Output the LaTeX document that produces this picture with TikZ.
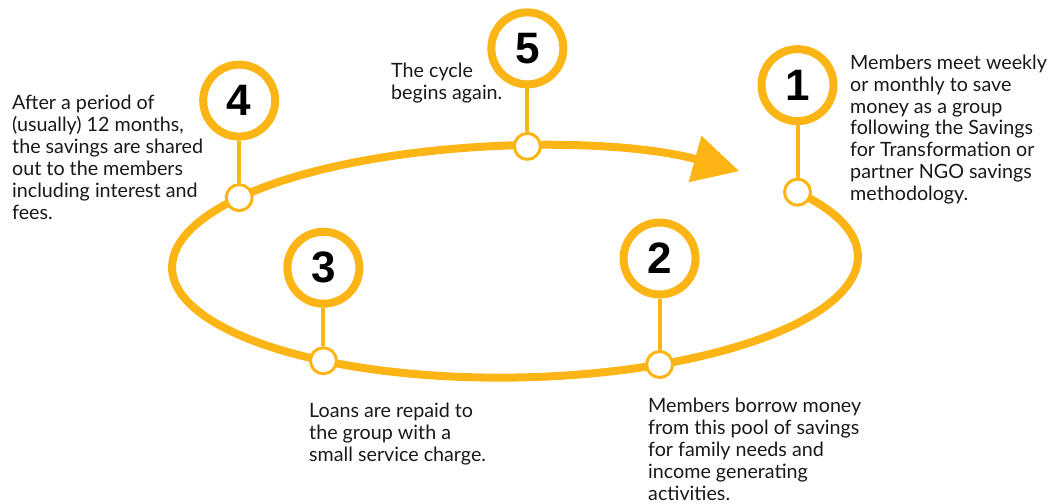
\documentclass[tikz,border=0pt]{standalone}
\usepackage{fontspec}
\setmainfont{Lato}
\newfontfamily\numfont{Liberation Sans}
\usetikzlibrary{arrows.meta}
\definecolor{cycleorange}{RGB}{252,181,21}

\begin{document}
\begin{tikzpicture}[x=1pt, y=1pt,
    ring/.style={cycleorange, line width=8pt},
    station/.style={circle, draw=cycleorange, line width=3pt, fill=white,
      minimum size=26pt, inner sep=0pt},
    numbox/.style={circle, draw=cycleorange, line width=8pt, fill=white,
      minimum size=72pt, inner sep=0pt,
      font=\numfont\bfseries\fontsize{44}{44}\selectfont},
    stem/.style={cycleorange, line width=4pt},
    note/.style={anchor=north west, inner sep=0pt, align=left,
      text=black!90, font=\fontsize{19.7}{21.9}\selectfont}]
  \useasboundingbox (0,0) rectangle (1048,-503);

  % the cycle
  \begin{scope}[shift={(515,-262)}, rotate=1]
    \foreach \n/\t in {1/34.2, 2/-65.4, 3/-124.3, 4/143.2, 5/87.6}
      \coordinate (p\n) at (\t:343pt and 115.5pt);
    \draw[ring, -{Triangle[length=46pt, width=46pt]}] (p1)
      arc[start angle=34.2, end angle=-311.2, x radius=343pt, y radius=115.5pt];
  \end{scope}

  % the five steps
  \foreach \n/\h in {1/107, 2/106, 3/93, 4/97, 5/98} {
    \node[station] (s\n) at (p\n) {};
    \node[numbox] (n\n) at ([yshift=\h pt]p\n) {\n};
    \draw[stem] (n\n) -- (s\n);
  }

  \node[note] (t1) at (850,-54.5) {Members meet weekly\\or monthly to save\\money as a group\\following the Savings\\for Transformation or\\partner NGO savings\\methodology.};
  \node[note] (t2) at (648,-398) {Members borrow money\\from this pool of savings\\for family needs and\\income generating\\activities.};
  \node[note] (t3) at (309,-403) {Loans are repaid to\\the group with a\\small service charge.};
  \node[note] (t4) at (12,-95) {After a period of\\(usually) 12 months,\\the savings are shared\\out to the members\\including interest and\\fees.};
  \node[note] (t5) at (391,-63) {The cycle\\begins again.};
\end{tikzpicture}
\end{document}
